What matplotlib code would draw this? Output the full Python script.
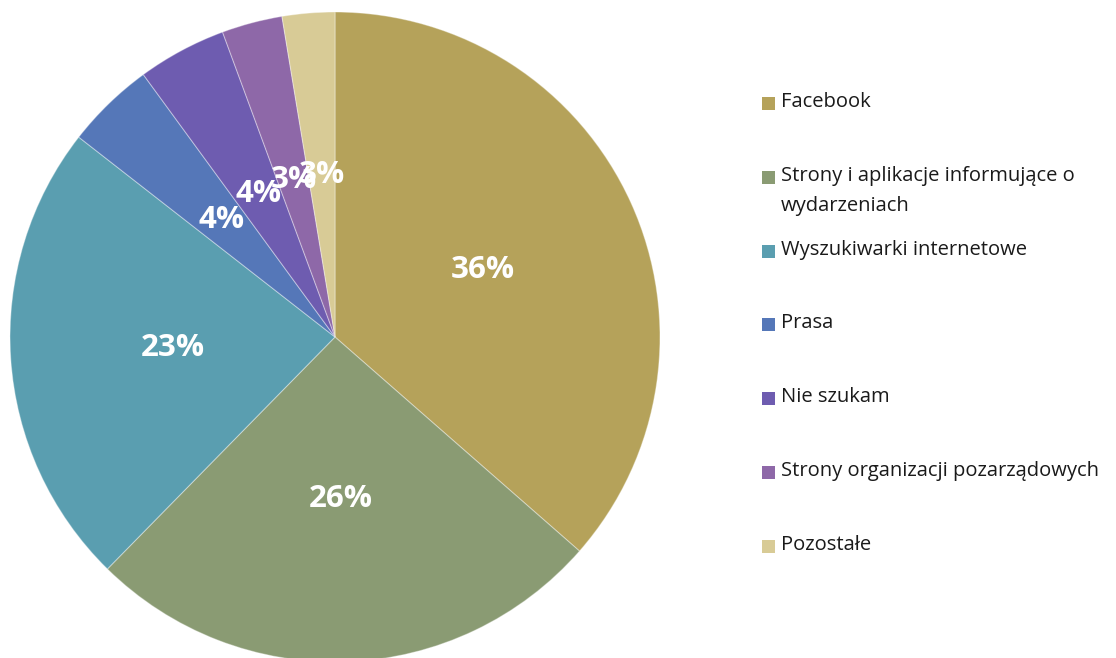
import matplotlib
matplotlib.use("Agg")
import matplotlib.pyplot as plt
from matplotlib.patches import Rectangle

categories = [
    "Facebook",
    "Strony i aplikacje informujące o\nwydarzeniach",
    "Wyszukiwarki internetowe",
    "Prasa",
    "Nie szukam",
    "Strony organizacji pozarządowych",
    "Pozostałe",
]
values = [36.3, 25.8, 23.1, 4.4, 4.4, 3.0, 2.6]
colors = ["#B5A25A", "#8A9B73", "#5A9EB0", "#5577B8", "#6E5CB0", "#8E68A8", "#D8CB96"]

W, H = 1116, 658
fig = plt.figure(figsize=(W / 100, H / 100), dpi=100)
fig.patch.set_facecolor("white")

cx, cy, R = 335, 337, 325
ax = fig.add_axes([(cx - R) / W, (H - cy - R) / H, 2 * R / W, 2 * R / H])
wedges, texts, autotexts = ax.pie(
    values, colors=colors, startangle=90, counterclock=False,
    autopct=lambda p: f"{round(p)}%", pctdistance=0.5, radius=1,
    wedgeprops=dict(edgecolor=(1, 1, 1, 0.35), linewidth=0.8),
    textprops=dict(color="white", fontsize=22.5, fontweight="bold", family="Open Sans"),
)
ax.set_xlim(-1, 1)
ax.set_ylim(-1, 1)
ax.set_aspect("equal")
ax.axis("off")

# manual legend (Excel style)
lx_sq, lx_txt, y0, step = 762, 781, 102, 73.8
line_h = 30
for i, (lab, col) in enumerate(zip(categories, colors)):
    y = y0 + i * step
    fig.patches.append(Rectangle((lx_sq / W, 1 - (y + 8) / H), 13 / W, 13 / H,
                                 transform=fig.transFigure, facecolor=col, edgecolor="none"))
    for j, line in enumerate(lab.split("\n")):
        fig.text(lx_txt / W, 1 - (y + j * line_h) / H, line, fontsize=14.5,
                 family="Open Sans", color="#1a1a1a", va="center", ha="left")

fig.savefig("out.png", dpi=100, facecolor="white")
